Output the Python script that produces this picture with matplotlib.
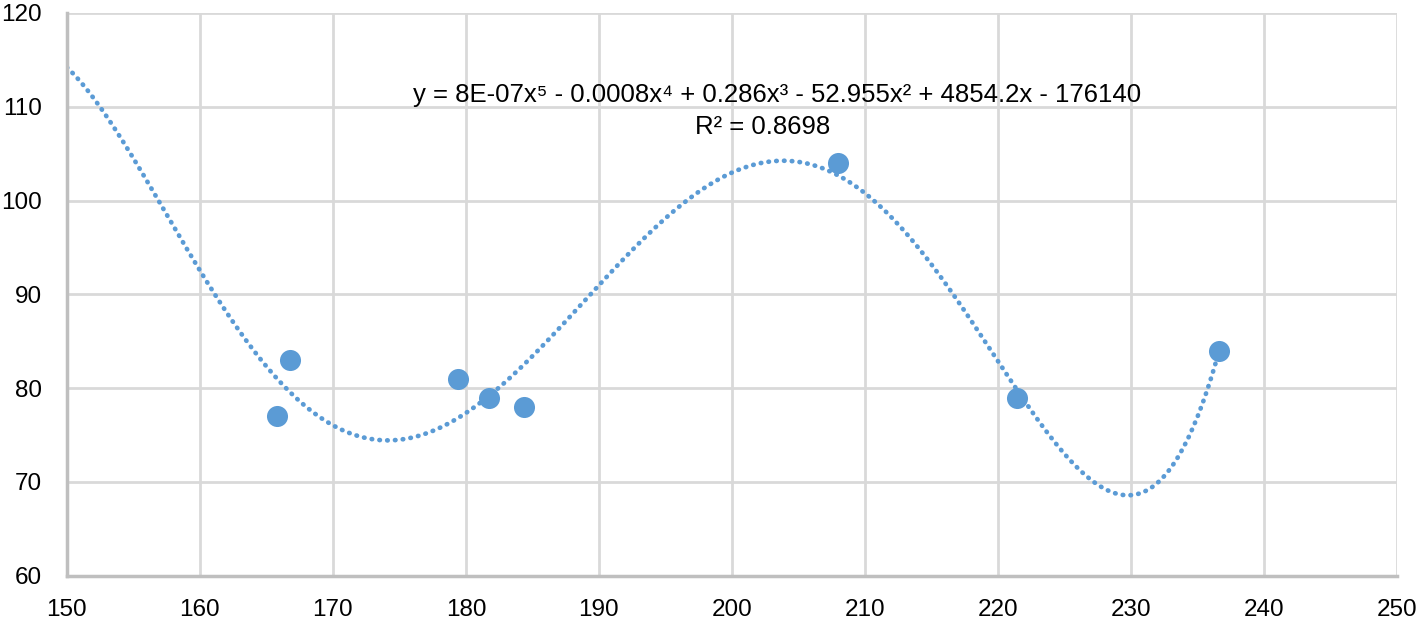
import matplotlib
matplotlib.use("Agg")
import matplotlib.pyplot as plt
import numpy as np

# scatter points
x_vals = [165.8, 166.8, 179.4, 181.7, 184.4, 208.0, 221.4, 236.6]
y_vals = [77, 83, 81, 79, 78, 104, 79, 84]

# points read along the dotted trendline in the reference (poly, order 5)
trend_x = [150.2, 152.5, 157.0, 160.1, 164.5, 166.3, 169.5, 174.0, 178.1, 182.7,
           185.6, 190.0, 194.9, 200.0, 203.6, 207.4, 210.3, 214.2, 216.7, 219.8,
           223.3, 226.5, 229.9, 232.5, 234.6, 236.1]
trend_y = [113.9, 110.0, 99.7, 92.3, 83.2, 80.3, 76.4, 74.4, 75.8, 80.3,
           84.4, 90.9, 98.0, 103.0, 104.2, 103.1, 100.4, 94.7, 89.9, 83.3,
           76.0, 70.8, 68.5, 70.7, 75.7, 81.3]

eq_text = "y = 8E-07x\u2075 - 0.0008x\u2074 + 0.286x\u00b3 - 52.955x\u00b2 + 4854.2x - 176140"
r2_text = "R\u00b2 = 0.8698"

plt.rcParams['font.family'] = ['Liberation Sans', 'DejaVu Sans']
blue = '#5b9bd5'
grid_col = '#d9d9d9'

fig = plt.figure(figsize=(14.24, 6.24), dpi=100)
ax = fig.add_axes([0.0470, 0.0774, 0.934, 0.9018])

# smooth order-5 curve through the read trendline points
tx = np.array(trend_x)
xm = tx.mean()
coef = np.polyfit(tx - xm, trend_y, 5)
xs = np.linspace(150, max(x_vals), 500)
ax.plot(xs, np.polyval(coef, xs - xm), color=blue, lw=3.4, ls=(0, (0.1, 1.55)),
        dash_capstyle='round', zorder=2)
ax.scatter(x_vals, y_vals, s=230, color=blue, zorder=3, linewidths=0)

ax.set_xlim(150, 250)
ax.set_ylim(60, 120)
ax.set_xticks(np.arange(150, 251, 10))
ax.set_yticks(np.arange(60, 121, 10))
ax.grid(True, color=grid_col, lw=2)
ax.set_axisbelow(True)
for s in ['top', 'right']:
    ax.spines[s].set_visible(False)
for s in ['left', 'bottom']:
    ax.spines[s].set_color('#bfbfbf')
    ax.spines[s].set_linewidth(2.5)
ax.tick_params(length=0, labelsize=17.5)
ax.tick_params(axis='x', pad=17)
ax.tick_params(axis='y', pad=18)

ax.text(0.534, 0.854, eq_text, transform=ax.transAxes, ha='center', va='center', fontsize=18.5)
ax.text(0.523, 0.797, r2_text, transform=ax.transAxes, ha='center', va='center', fontsize=18.5)

fig.savefig('out.png', dpi=100)
